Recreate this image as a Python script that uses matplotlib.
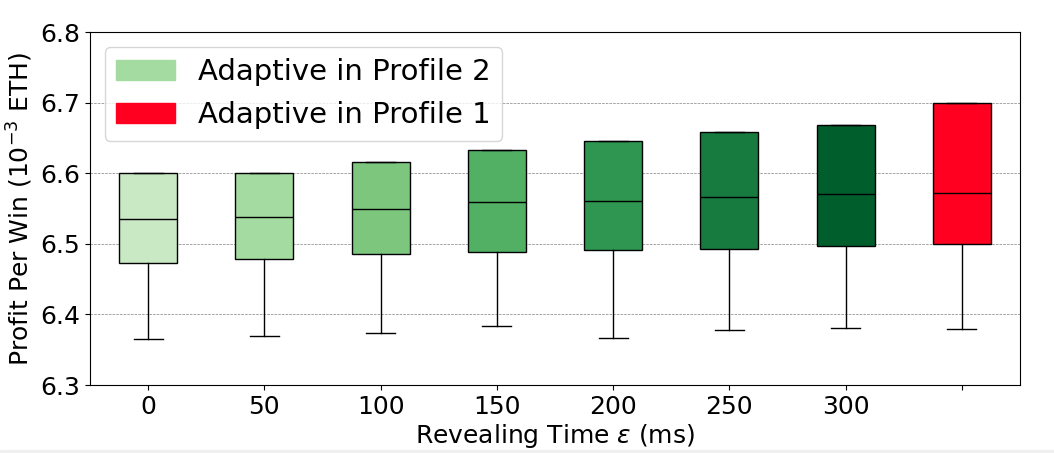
import matplotlib
matplotlib.use("Agg")
import matplotlib.pyplot as plt
from matplotlib.patches import Patch, Rectangle

# revealing time (ms) and box statistics
reveal_times = ['0', '50', '100', '150', '200', '250', '300', '']
q1 = [6.473, 6.478, 6.486, 6.488, 6.491, 6.493, 6.497, 6.500]
med = [6.535, 6.538, 6.549, 6.559, 6.561, 6.566, 6.570, 6.572]
q3 = [6.600, 6.601, 6.616, 6.633, 6.646, 6.658, 6.668, 6.700]
lo = [6.365, 6.369, 6.374, 6.384, 6.367, 6.378, 6.381, 6.379]
box_colors = ['#c9e9c4', '#a3dba0', '#7dc67e', '#51b064', '#2e9650',
              '#177a3e', '#005e2c', '#ff0020']
legend_labels = ['Adaptive in Profile 2', 'Adaptive in Profile 1']
legend_colors = ['#a3dba0', '#ff0020']

stats = []
for i in range(len(q1)):
    stats.append({'med': med[i], 'q1': q1[i], 'q3': q3[i],
                  'whislo': lo[i], 'whishi': q3[i], 'fliers': []})

fig = plt.figure(figsize=(10.54, 4.53), dpi=100)
ax = fig.add_axes([0.0854, 0.150, 0.8823, 0.779])

bp = ax.bxp(stats, widths=0.5, patch_artist=True, showfliers=False,
            medianprops=dict(color='black', linewidth=1),
            boxprops=dict(edgecolor='black', linewidth=1),
            whiskerprops=dict(color='black', linewidth=1),
            capprops=dict(color='black', linewidth=1))
for patch, c in zip(bp['boxes'], box_colors):
    patch.set_facecolor(c)

ax.set_xticks(range(1, len(reveal_times) + 1))
ax.set_xticklabels(reveal_times)
ax.set_xlim(0.5, 8.5)
ax.set_ylim(6.3, 6.8)
ax.set_yticks([6.3, 6.4, 6.5, 6.6, 6.7, 6.8])
ax.tick_params(labelsize=18)
ax.yaxis.grid(True, linestyle='--', linewidth=0.5, color='grey')
ax.set_axisbelow(True)

ax.set_xlabel(r'Revealing Time $\epsilon$ (ms)', fontsize=18, labelpad=2)
ax.set_ylabel(r'Profit Per Win ($10^{-3}$ ETH)', fontsize=18)

handles = [Patch(color=c, label=l) for c, l in zip(legend_colors, legend_labels)]
ax.legend(handles=handles, loc='upper left', fontsize=21)

# thin light strip at the bottom of the screenshot
fig.patches.append(Rectangle((0, 0), 1, 3 / 453, transform=fig.transFigure,
                             color='#f0f0f0', zorder=-1))

fig.savefig('out.png', dpi=100)
